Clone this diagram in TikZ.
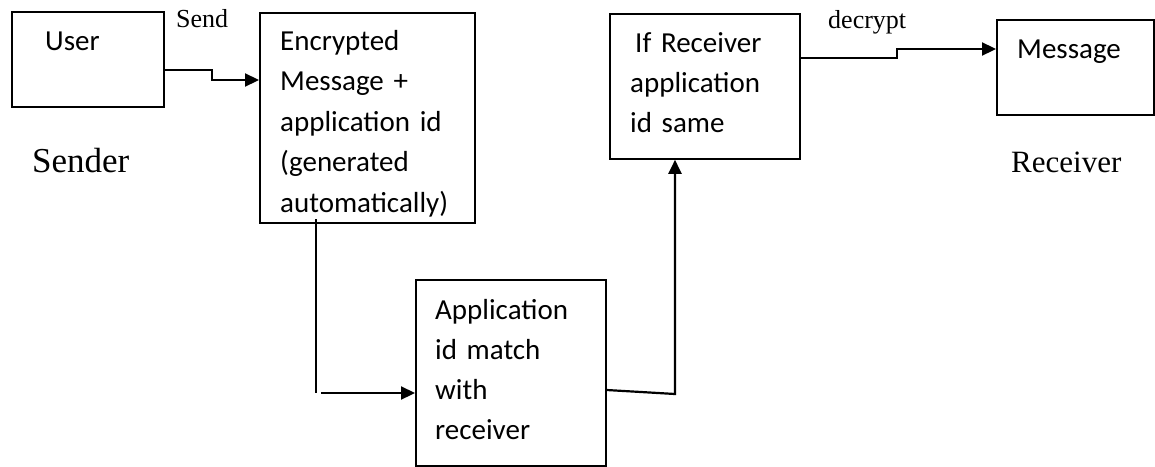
\documentclass[tikz,border=0pt]{standalone}
\usepackage{fontspec}
\setmainfont{Liberation Serif}
\newfontfamily\calibri{Carlito}
\usetikzlibrary{arrows.meta}

\begin{document}
\begin{tikzpicture}[x=1pt,y=-1pt,
    box/.style={draw,line width=1.8pt,anchor=north west,inner sep=0pt},
    boxtext/.style={anchor=base west,inner sep=0pt,align=left,text width=200pt,
      font=\calibri\fontsize{29}{40}\selectfont},
    side/.style={anchor=base west,inner sep=0pt},
    flow/.style={line width=2.2pt,-{Triangle[length=14pt,width=13pt]}},
    wire/.style={line width=2.2pt}]
  \useasboundingbox (0,0) rectangle (1155,466);

  % boxes
  \node[box,minimum width=152pt,minimum height=95pt] (user) at (11,11) {};
  \node[box,minimum width=215pt,minimum height=210pt] (enc) at (259,12) {};
  \node[box,minimum width=190pt,minimum height=186pt] (app) at (415,279) {};
  \node[box,minimum width=190pt,minimum height=145pt] (ifbox) at (609,13) {};
  \node[box,minimum width=157pt,minimum height=95pt] (msg) at (996,19) {};

  % texts in the boxes
  \node[boxtext] (usertxt) at (45,50) {User};
  \node[boxtext,font=\calibri\fontsize{29}{40.5}\selectfont] (enctxt) at (280,50)
    {Encrypted\\Message +\\application id\\(generated\\automatically)};
  \node[boxtext] (apptxt) at (435,319)
    {Application\\id match\\with\\receiver};
  \node[boxtext] (iftxt) at (630,52)
    {\hspace{5pt}If Receiver\\application\\id same};
  \node[boxtext] (msgtxt) at (1017,58) {Message};

  % side labels
  \node[side,font=\fontsize{26}{30}\selectfont] (send) at (176,27) {Send};
  \node[side,font=\fontsize{26}{30}\selectfont] (decrypt) at (828,28) {decrypt};
  \node[side,font=\fontsize{35}{40}\selectfont] (sender) at (32,172) {Sender};
  \node[side,font=\fontsize{31}{36}\selectfont] (receiver) at (1011,172) {Receiver};

  % connectors
  \coordinate (drop) at (316,219);
  \coordinate (corner) at (316,393);
  \coordinate (feed) at (321,393);
  \draw[flow] (user.east |- 0,70) -- (212,70) -- (212,80) -- (enc.west |- 0,80);
  \draw[wire] (drop) -- (corner);
  \draw[flow] (feed) -- (app.west |- feed);
  \draw[flow] (app.east |- 0,390) -- (675,394) -- (ifbox.south -| 675,0);
  \draw[flow] (ifbox.east |- 0,58) -- (897,58) -- (897,49) -- (msg.west |- 0,49);
\end{tikzpicture}
\end{document}
